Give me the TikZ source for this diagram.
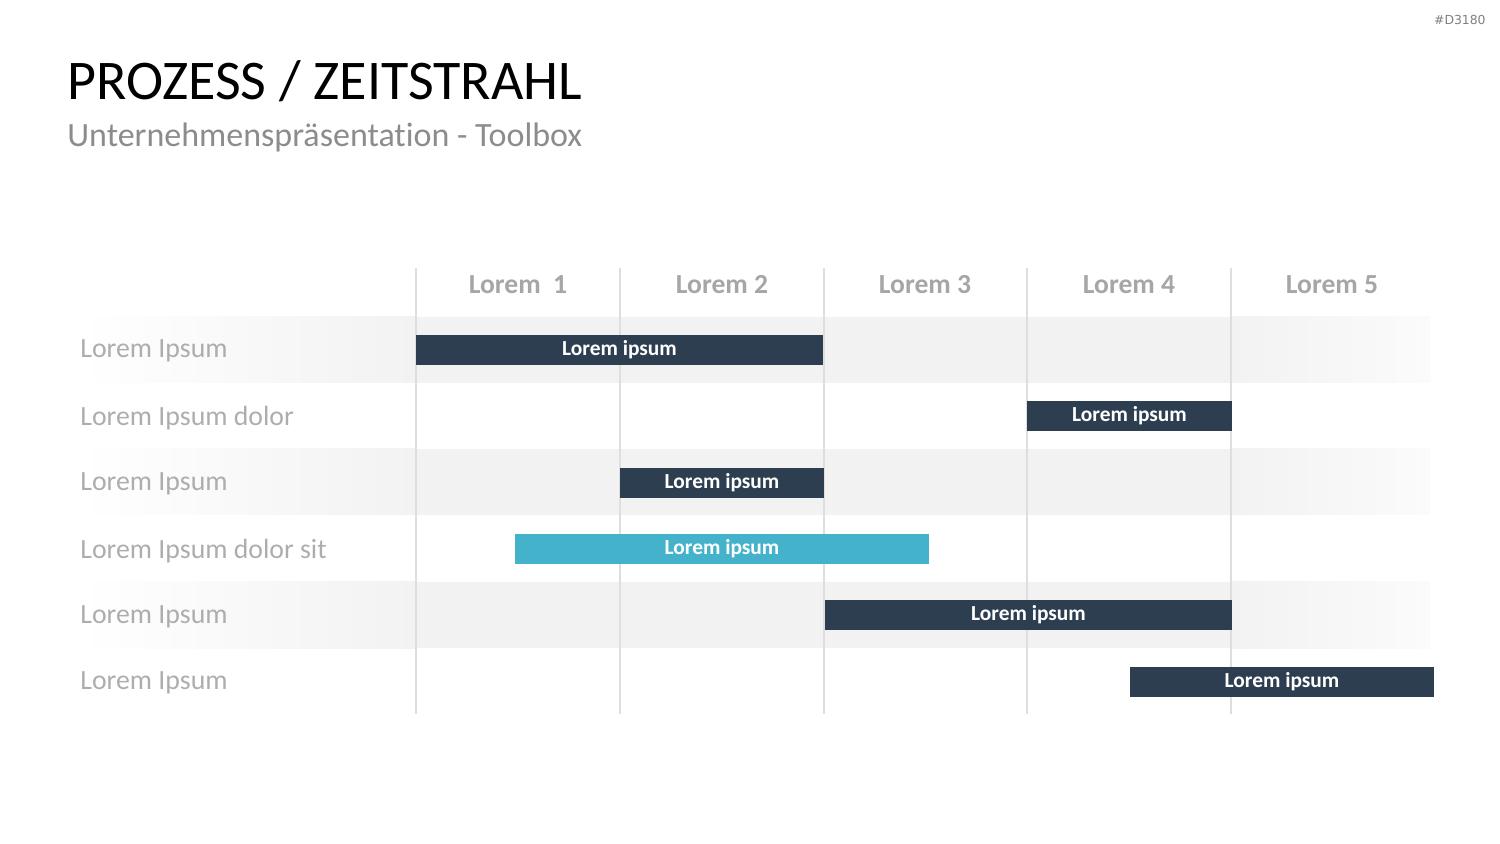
\documentclass[tikz,border=0pt]{standalone}
\usepackage{fontspec}
\setmainfont{Carlito}[Ligatures=NoCommon]
\newfontfamily\tagfont{DejaVu Sans}
\definecolor{bardark}{HTML}{2E3E51}
\definecolor{barcyan}{HTML}{45B2CC}
\definecolor{bandgray}{HTML}{F2F2F2}
\definecolor{gridgray}{HTML}{DEDEDE}
\definecolor{headgray}{HTML}{A6A6A6}
\definecolor{rowgray}{HTML}{ADADAD}
\tikzset{
  bar/.style={fill=bardark, text=white, inner sep=0pt, minimum height=15pt,
    font=\bfseries\fontsize{10.7}{12}\selectfont},
  head/.style={text=headgray, font=\bfseries\fontsize{13.8}{16}\selectfont},
  rowlabel/.style={anchor=west, inner sep=0pt, text=rowgray,
    font=\fontsize{13.9}{17}\selectfont},
}

\begin{document}
\begin{tikzpicture}[x=0.5pt,y=-0.5pt]
  \useasboundingbox (0,0) rectangle (1500,844);
  % tag and title
  \node[anchor=east, inner sep=0pt, text=gray, font=\tagfont\fontsize{6.2}{8}\selectfont] (tag) at (1486,20) {\#D3180};
  \node[anchor=base west, inner sep=0pt, font=\fontsize{28}{32}\selectfont] (title) at (67,100) {PROZESS / ZEITSTRAHL};
  \node[anchor=base west, inner sep=0pt, text=gray!90, font=\fontsize{17}{20}\selectfont] (subtitle) at (67,147) {Unternehmenspräsentation - Toolbox};
  % row bands
  \foreach \y in {317,449,582} {
    \shade[left color=white, right color=bandgray] (80,\y) rectangle (416,\y+66);
    \fill[bandgray] (416,\y) rectangle (1231,\y+66);
    \shade[left color=bandgray, right color=white!70!bandgray] (1231,\y) rectangle (1430,\y+66);
  }
  % grid
  \foreach \x in {416,620,824,1027,1231}
    \draw[gridgray, line width=0.6pt] (\x,268) -- (\x,714);
  % column heads
  \node[head] (h1) at (518,285) {Lorem\ \ 1};
  \node[head] (h2) at (722,285) {Lorem 2};
  \node[head] (h3) at (925,285) {Lorem 3};
  \node[head] (h4) at (1129,285) {Lorem 4};
  \node[head] (h5) at (1332,285) {Lorem 5};
  % row labels
  \node[rowlabel] (r1) at (80,351) {Lorem Ipsum};
  \node[rowlabel] (r2) at (80,418) {Lorem Ipsum dolor};
  \node[rowlabel] (r3) at (80,484) {Lorem Ipsum};
  \node[rowlabel] (r4) at (80,551) {Lorem Ipsum dolor sit};
  \node[rowlabel] (r5) at (80,617) {Lorem Ipsum};
  \node[rowlabel] (r6) at (80,683) {Lorem Ipsum};
  % bars
  \node[bar, minimum width=203.5pt] (b1) at (619.5,350) {Lorem ipsum};
  \node[bar, minimum width=102.5pt] (b2) at (1129.5,416) {Lorem ipsum};
  \node[bar, minimum width=102pt] (b3) at (722,483) {Lorem ipsum};
  \node[bar, fill=barcyan, minimum width=207pt] (b4) at (722,549) {Lorem ipsum};
  \node[bar, minimum width=203.5pt] (b5) at (1028.5,615) {Lorem ipsum};
  \node[bar, minimum width=152pt] (b6) at (1282,682) {Lorem ipsum};
\end{tikzpicture}
\end{document}
